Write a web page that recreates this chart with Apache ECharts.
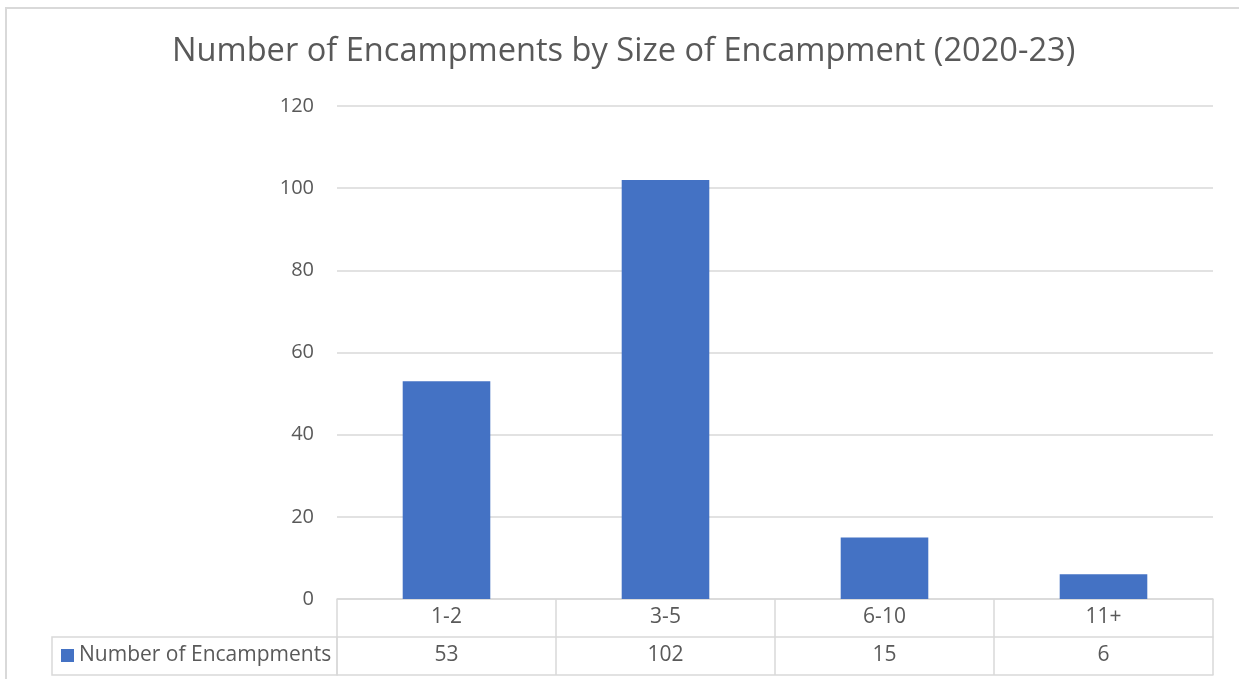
<!DOCTYPE html>
<html>
<head>
<meta charset="utf-8">
<title>Number of Encampments by Size of Encampment (2020-23)</title>
<script src="https://cdn.jsdelivr.net/npm/echarts@6/dist/echarts.min.js"></script>
<style>
  html, body { margin: 0; padding: 0; background: #ffffff; }
  #chart { width: 1239px; height: 679px; }
</style>
</head>
<body>
<div id="chart"></div>
<script>
// Encampment size bands and how many encampments fell into each
const categories = ['1-2', '3-5', '6-10', '11+'];
const encampments = [53, 102, 15, 6];
const seriesName = 'Number of Encampments';
const titleText = 'Number of Encampments by Size of Encampment (2020-23)';
const yMin = 0, yMax = 120, yStep = 20;

// Layout of the plot and of the data table beneath it
const plot = { left: 337, right: 26, top: 106, bottom: 80 };
const rowH = 38;
const headerLeft = 52;
const W = 1239, H = 679;
const plotBottomY = H - plot.bottom;

const gridColor = '#d9d9d9';
const textColor = '#595959';
const font = '"Open Sans", "Liberation Sans", sans-serif';
const tableFontSize = 21;

const chart = echarts.init(document.getElementById('chart'), null, { renderer: 'canvas' });

const tableLine = { show: true, lineStyle: { color: gridColor, width: 1.5 } };
const tableTick = { show: true, interval: 0, length: rowH, lineStyle: { color: gridColor, width: 1.5 } };

chart.setOption({
  animation: false,
  backgroundColor: '#ffffff',
  textStyle: { fontFamily: font },
  title: {
    text: titleText,
    left: 172,
    top: 35,
    padding: 0,
    textStyle: { fontFamily: font, fontSize: 32.6, fontWeight: 'normal', color: textColor }
  },
  legend: {
    data: [seriesName],
    left: headerLeft + 9,
    top: plotBottomY + rowH + 8,
    padding: 0,
    icon: 'rect',
    itemWidth: 13,
    itemHeight: 13,
    textStyle: { fontFamily: font, fontSize: tableFontSize, color: textColor },
    selectedMode: false
  },
  grid: {
    left: plot.left,
    right: plot.right,
    top: plot.top,
    bottom: plot.bottom,
    containLabel: false
  },
  xAxis: [
    {
      // category row of the data table
      type: 'category',
      data: categories,
      position: 'bottom',
      axisLine: tableLine,
      axisTick: tableTick,
      axisLabel: { interval: 0, margin: 8, fontSize: tableFontSize, color: textColor, fontFamily: font },
      splitLine: { show: false }
    },
    {
      // values row of the data table
      type: 'category',
      data: categories,
      position: 'bottom',
      offset: rowH,
      axisLine: tableLine,
      axisTick: tableTick,
      axisLabel: {
        interval: 0, margin: 8, fontSize: tableFontSize, color: textColor, fontFamily: font,
        formatter: (v, i) => String(encampments[i])
      },
      splitLine: { show: false }
    },
    {
      // bottom edge of the data table
      type: 'category',
      data: categories,
      position: 'bottom',
      offset: rowH * 2,
      axisLine: tableLine,
      axisTick: { show: false },
      axisLabel: { show: false }
    }
  ],
  yAxis: {
    type: 'value',
    min: yMin,
    max: yMax,
    interval: yStep,
    axisLine: { show: false },
    axisTick: { show: false },
    axisLabel: { fontSize: 20, color: textColor, margin: 23, fontFamily: font },
    splitLine: { lineStyle: { color: gridColor, width: 1.5 } }
  },
  series: [{
    name: seriesName,
    type: 'bar',
    xAxisIndex: 0,
    data: encampments,
    barWidth: '40%',
    itemStyle: { color: '#4472c4' }
  }],
  graphic: [
    {
      // chart area frame
      type: 'rect',
      shape: { x: 6, y: 8, width: W + 50, height: H + 50 },
      style: { fill: 'none', stroke: gridColor, lineWidth: 2 },
      silent: true
    },
    {
      // series header cell of the data table
      type: 'rect',
      shape: { x: headerLeft, y: plotBottomY + rowH, width: plot.left - headerLeft, height: rowH },
      style: { fill: 'none', stroke: gridColor, lineWidth: 1.5 },
      silent: true
    }
  ]
});
</script>
</body>
</html>
